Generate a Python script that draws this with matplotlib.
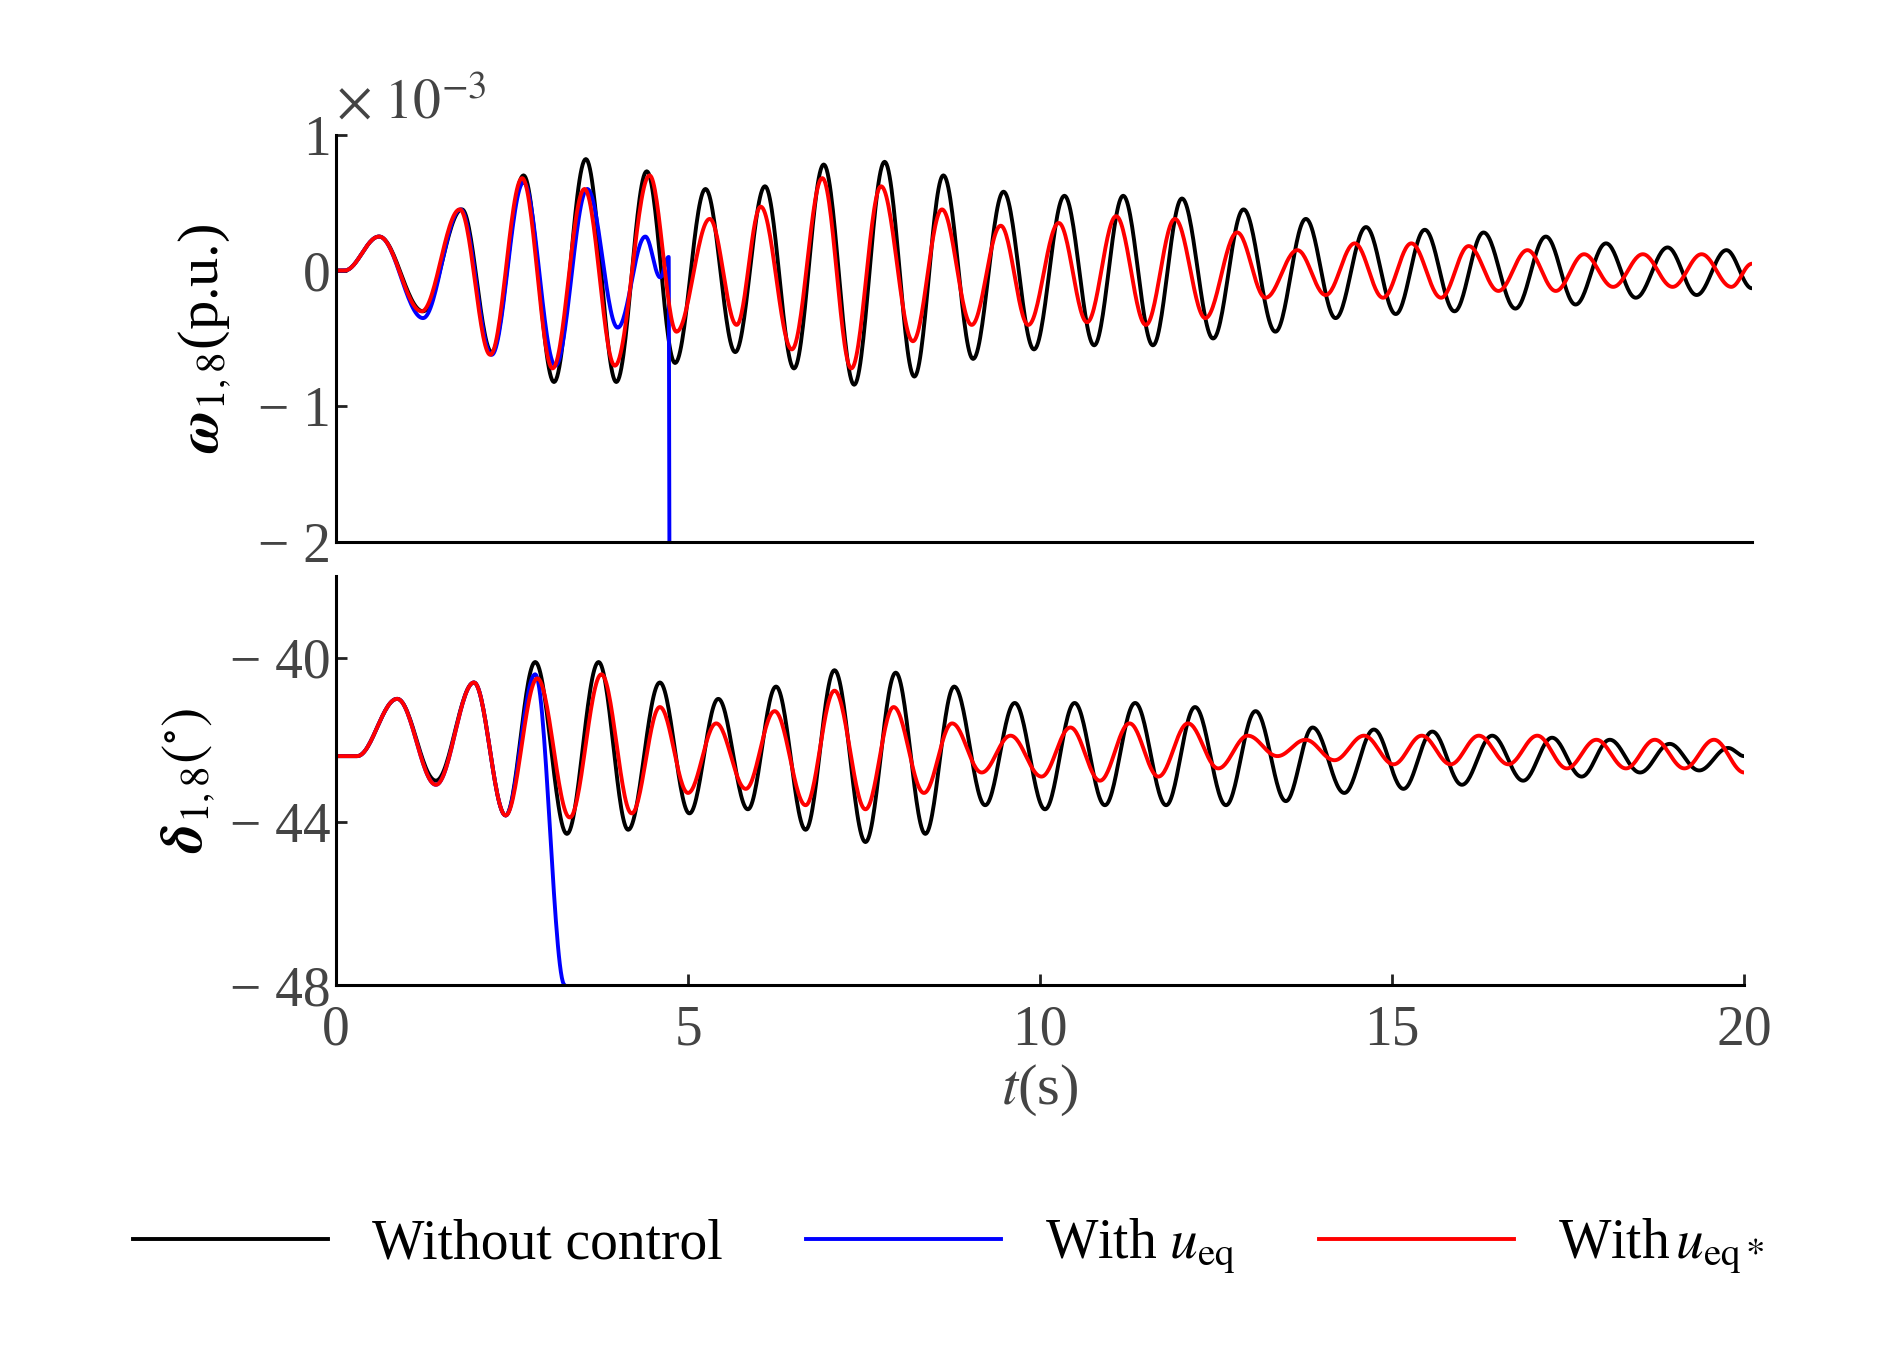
import numpy as np
import matplotlib
matplotlib.use("Agg")
import matplotlib.pyplot as plt

plt.rcParams['font.family'] = ['Liberation Serif', 'DejaVu Serif']
plt.rcParams['mathtext.fontset'] = 'stix'

# omega (x1e-3 p.u.), extrema times / values
w_black_t = [0, 0.12, 0.61, 1.23, 1.78, 2.20, 2.65, 3.08, 3.53, 3.96, 4.39, 4.79,
             5.22, 5.64, 6.06, 6.47, 6.89, 7.32, 7.75, 8.17, 8.58, 9.00,
             9.43, 9.86, 10.29, 10.71, 11.12, 11.54, 11.95, 12.39, 12.82, 13.27,
             13.70, 14.12, 14.55, 14.97, 15.38, 15.80, 16.21, 16.66, 17.09, 17.51,
             17.94, 18.36, 18.81, 19.22, 19.64, 20.0]
w_black_v = [0, 0, 0.25, -0.3, 0.45, -0.6, 0.7, -0.82, 0.82, -0.82, 0.73, -0.68,
             0.6, -0.6, 0.62, -0.72, 0.78, -0.84, 0.8, -0.78, 0.7, -0.65,
             0.58, -0.58, 0.55, -0.55, 0.55, -0.55, 0.53, -0.5, 0.45, -0.45,
             0.38, -0.35, 0.32, -0.32, 0.3, -0.3, 0.28, -0.28, 0.25, -0.25,
             0.2, -0.2, 0.17, -0.18, 0.15, -0.13]
w_red_t = [0, 0.12, 0.61, 1.21, 1.75, 2.18, 2.63, 3.06, 3.51, 3.94, 4.43, 4.81,
           5.28, 5.66, 6.00, 6.44, 6.87, 7.28, 7.70, 8.15, 8.56, 8.98,
           9.39, 9.78, 10.21, 10.61, 11.02, 11.44, 11.85, 12.28, 12.73, 13.13,
           13.58, 13.98, 14.39, 14.79, 15.19, 15.61, 16.00, 16.42, 16.83, 17.23,
           17.63, 18.04, 18.46, 18.88, 19.29, 19.71, 20.0]
w_red_v = [0, 0, 0.25, -0.3, 0.45, -0.62, 0.68, -0.72, 0.6, -0.7, 0.7, -0.45,
           0.38, -0.4, 0.47, -0.58, 0.68, -0.72, 0.62, -0.52, 0.45, -0.4,
           0.33, -0.4, 0.35, -0.38, 0.4, -0.4, 0.38, -0.35, 0.28, -0.2,
           0.15, -0.18, 0.2, -0.2, 0.2, -0.2, 0.18, -0.15, 0.15, -0.15,
           0.12, -0.12, 0.12, -0.12, 0.12, -0.12, 0.05]
w_blue_t = [0, 0.12, 0.61, 1.23, 1.76, 2.20, 2.65, 3.10, 3.55, 3.98, 4.37, 4.58, 4.70, 4.71]
w_blue_v = [0, 0, 0.25, -0.35, 0.45, -0.62, 0.65, -0.7, 0.6, -0.42, 0.25, -0.05, 0.1, -2.0]

# delta (deg)
d_black_t = [0, 0.3, 0.87, 1.42, 1.96, 2.41, 2.83, 3.28, 3.73, 4.15, 4.60, 5.02,
             5.43, 5.85, 6.25, 6.67, 7.08, 7.52, 7.95, 8.37, 8.78, 9.22,
             9.64, 10.07, 10.49, 10.92, 11.35, 11.79, 12.20, 12.64, 13.06, 13.49,
             13.87, 14.32, 14.74, 15.16, 15.57, 15.99, 16.42, 16.86, 17.27, 17.69,
             18.09, 18.52, 18.94, 19.36, 19.77, 20.0]
d_black_v = [-42.4, -42.4, -41.0, -43.0, -40.6, -43.85, -40.1, -44.3, -40.1, -44.2, -40.6, -43.8,
             -41.0, -43.7, -40.7, -44.2, -40.3, -44.5, -40.36, -44.3, -40.7, -43.6,
             -41.1, -43.7, -41.1, -43.6, -41.1, -43.6, -41.2, -43.6, -41.3, -43.5,
             -41.7, -43.3, -41.75, -43.2, -41.8, -43.1, -41.9, -43.0, -41.95, -42.9,
             -42.0, -42.8, -42.1, -42.75, -42.2, -42.4]
d_red_t = [0, 0.3, 0.87, 1.42, 1.96, 2.41, 2.86, 3.32, 3.77, 4.20, 4.60, 5.00,
           5.40, 5.82, 6.23, 6.67, 7.08, 7.52, 7.92, 8.35, 8.75, 9.17,
           9.58, 10.02, 10.43, 10.85, 11.27, 11.68, 12.10, 12.53, 12.95, 13.37,
           13.77, 14.18, 14.60, 15.02, 15.42, 15.83, 16.23, 16.65, 17.06, 17.48,
           17.90, 18.32, 18.73, 19.15, 19.57, 20.0]
d_red_v = [-42.4, -42.4, -41.0, -43.1, -40.6, -43.85, -40.5, -43.9, -40.4, -43.8, -41.2, -43.3,
           -41.6, -43.2, -41.3, -43.6, -40.8, -43.7, -41.2, -43.3, -41.6, -42.8,
           -41.9, -42.9, -41.7, -43.0, -41.6, -42.9, -41.6, -42.7, -41.9, -42.4,
           -42.0, -42.5, -41.9, -42.6, -41.9, -42.6, -41.9, -42.6, -41.9, -42.7,
           -42.0, -42.7, -42.0, -42.7, -42.0, -42.8]
d_blue_t = [0, 0.3, 0.87, 1.42, 1.96, 2.41, 2.83, 3.25]
d_blue_v = [-42.4, -42.4, -41.0, -43.1, -40.6, -43.85, -40.4, -48.0]


def smooth(t, v, n=30):
    """Connect consecutive extrema with half-cosine segments."""
    m = min(len(t), len(v))
    t, v = t[:m], v[:m]
    xs, ys = [], []
    for i in range(m - 1):
        s = np.linspace(0, 1, n, endpoint=False)
        xs.append(t[i] + (t[i + 1] - t[i]) * s)
        ys.append(v[i] + (v[i + 1] - v[i]) * (1 - np.cos(np.pi * s)) / 2)
    xs.append([t[-1]]); ys.append([v[-1]])
    return np.concatenate(xs), np.concatenate(ys)


fig = plt.figure(figsize=(18.98, 13.46), dpi=100)
ax1 = fig.add_axes([0.177, 0.597, 0.746, 0.303])
ax2 = fig.add_axes([0.177, 0.268, 0.742, 0.304])
lw = 2.8
tfs = 40

for ax in (ax1, ax2):
    for s in ('top', 'right'):
        ax.spines[s].set_visible(False)
    for s in ('left', 'bottom'):
        ax.spines[s].set_linewidth(2.2)
    ax.tick_params(direction='in', labelsize=tfs, width=2, length=8, colors='#222222', labelcolor='#444444')
    ax.set_xlim(0, 20)

h1, = ax1.plot(*smooth(w_black_t, w_black_v), color='black', lw=lw)
h2, = ax1.plot(*smooth(w_blue_t, w_blue_v), color='#0000ff', lw=lw)
h3, = ax1.plot(*smooth(w_red_t, w_red_v), color='#ff0000', lw=lw)
ax1.set_ylim(-2, 1)
ax1.set_yticks([-2, -1, 0, 1])
ax1.set_yticklabels(['\u2212 2', '\u2212 1', '0', '1'])
ax1.set_xticks([])
ax1.text(0.0, 1.04, r'$\times\ 10^{-3}$', transform=ax1.transAxes, fontsize=tfs, color='#444444')
ax1.set_ylabel(r'$\boldsymbol{\omega}_{1,8}$(p.u.)', fontsize=42, labelpad=18)

ax2.plot(*smooth(d_black_t, d_black_v), color='black', lw=lw)
ax2.plot(*smooth(d_blue_t, d_blue_v), color='#0000ff', lw=lw)
ax2.plot(*smooth(d_red_t, d_red_v), color='#ff0000', lw=lw)
ax2.set_ylim(-48, -38)
ax2.set_yticks([-48, -44, -40])
ax2.set_yticklabels(['\u2212 48', '\u2212 44', '\u2212 40'])
ax2.set_xticks([0, 5, 10, 15, 20])
ax2.tick_params(axis='x', pad=14)
ax2.set_ylabel(r'$\boldsymbol{\delta}_{1,8}(^{\circ})$', fontsize=42, labelpad=10)
ax2.set_xlabel(r'$t$(s)', fontsize=42, color='#444444', labelpad=4)

fig.legend([h1, h2, h3], ['Without control', r'With $u_{\rm eq}$', r'With$\,u_{\rm eq*}$'],
           loc='lower center', bbox_to_anchor=(0.5, 0.015), ncol=3, frameon=False,
           fontsize=40, handlelength=3.5, columnspacing=1.5)

fig.savefig('out.png', dpi=100)
